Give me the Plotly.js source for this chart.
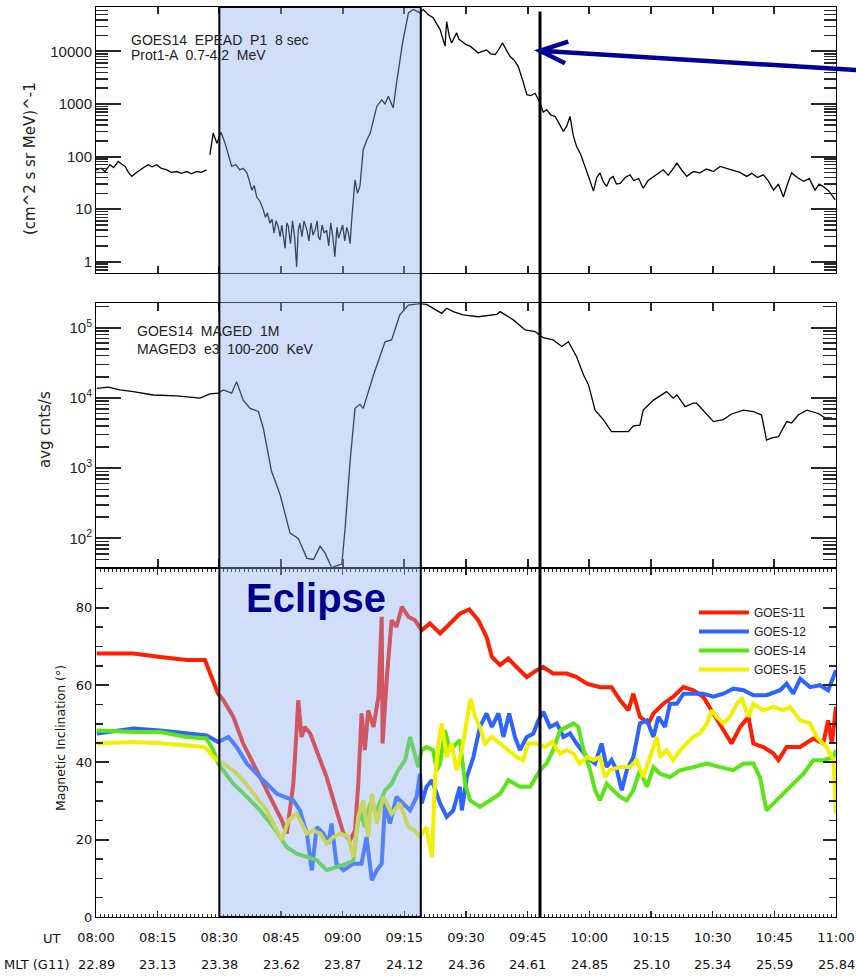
<!DOCTYPE html>
<html><head><meta charset="utf-8">
<script src="https://cdn.plot.ly/plotly-3.0.1.min.js"></script>
<style>html,body{margin:0;padding:0;background:#fff}#chart{width:856px;height:976px}</style>
</head><body><div id="chart"></div>
<script>
// x values: minutes after 08:00 UT
const utTicks = [0,15,30,45,60,75,90,105,120,135,150,165,180];
const utLabels = ['08:00','08:15','08:30','08:45','09:00','09:15','09:30','09:45','10:00','10:15','10:30','10:45','11:00'];
const mltLabels = ['22.89','23.13','23.38','23.62','23.87','24.12','24.36','24.61','24.85','25.10','25.34','25.59','25.84'];
const eclipseStart = 30, eclipseEnd = 79, markerTime = 108;

// GOES14 EPEAD P1 proton flux
const fluxTime = [0,1.2,2.2,3.4,4.3,5.4,6.2,7.1,7.9,8.7, 9.6,10.7,11.6,12.7,13.6,14.8,15.8,17.2,18.3,19.6,
 20.8,22.1,23.2,24.5,25.6,26.9,27.3,27.7,28.5,29.4, 30.4,31.4,32.2,33.0,34.0,35.0,35.8,36.7,37.3,37.9,
 38.5,39.1,39.9,40.7,41.2,41.7,42.3,42.8,43.3,43.8, 44.3,44.8,45.2,45.6,46.0,46.4,46.8,47.3,47.8,48.3,
 48.8,49.2,49.6,50.1,50.6,51.3,51.8,52.3,52.8,53.3, 53.8,54.1,54.5,55.0,55.5,56.1,56.6,57.1,57.6,58.1,
 58.6,59.0,59.4,60.0,60.5,61.0,61.4,61.8,62.2,63.0, 63.6,64.2,65.0,65.8,66.7,67.5,68.3,69.5,70.3,71.1,
 72.3,73.1,73.9,74.6,75.2,76.0,77.2,78.0,78.8,79.6, 80.8,82.0,83.0,83.7,84.9,85.3,85.9,86.5,87.7,88.3,
 89.0,90.0,91.0,92.0,93.0,94.0,95.0,96.0,97.1,98.0, 98.9,100.0,100.7,101.7,102.7,103.8,104.8,105.8,106.8,107.4,
 108.0,108.8,109.6,110.6,111.7,112.7,113.7,114.5,115.3,116.1, 116.9,117.9,119.0,120.0,121.0,121.8,122.6,123.4,124.2,125.0,
 125.8,126.6,127.5,128.7,129.9,130.8,132.0,133.1,134.3,135.6, 136.8,138.0,139.2,140.3,141.3,142.5,143.7,145.3,146.9,148.5,
 150.2,151.8,153.4,155.0,156.6,158.3,159.5,160.9,162.3,163.5, 164.8,166.0,167.2,168.2,169.2,170.6,172.1,173.5,174.9,175.9,
 176.9,178.3,179.8];
const fluxValue = [56,60,52,70,62,81,72,65,50,42, 48,56,62,70,64,70,60,56,50,52,
 48,52,47,52,50,56,null,108,280,180, 290,180,110,65,70,56,60,49,35,23,
 28,17,14,9.7,7,8.5,5.4,6.5,3.5,6, 4.7,3,5,2.6,1.8,5.5,4.7,2.2,6,3,
 0.8,4,5.4,3,6,4.0,2.5,5.5,3.2,4.0, 6,3,2.6,5,3.5,4,2,5.5,3,1.25,
 4.5,2.8,3.5,5,2.5,4.5,3.5,2.2,6.3,36, 20,27,135,200,280,500,900,1200,1000,1400,
 840,2500,6900,15000,26000,54000,63000,58000,54000,63000, 50000,44000,32000,26000,12600,37000,20000,14500,22600,17000,
 15500,13500,12600,11000,9300,10000,10700,9000,8700,11000, 14500,10000,8100,6800,5200,2800,1500,1450,1600,1300,
 1050,700,780,620,580,420,300,380,580,250, 155,110,65,38,22,40,49,33,27,38,
 42,30,31,40,45,35,38,25,35,42, 48,56,44,58,75,55,42,52,49,58,
 52,65,60,56,50,42,48,40,45,35, 23,30,17,30,49,40,34,38,23,30,
 27,22,15];

// GOES14 MAGED 100-200 keV electrons
const magedTime = [0.2,3.0,5.8,9.1,13.9,19.6,25.3,27.7,29.7,31.0,33.0,34.2,35.8,37.5,39.5,40.7,42.7,44.8,
 47.2,49.2,51.3,52.9,54.5,55.7,57.3,59.8,60.6,61.8,63.0,64.2,65.0,67.5,70.3,71.9,73.9,76.0,
 78.8,80.4,84.1,85.3,86.9,89.3,93.0,97.5,98.3,101.5,104.4,106.8,108.8,111.2,113.3,114.9,116.9,118.6,
 119.8,121.4,123.4,125.4,127.9,129.5,130.7,132.3,133.1,135.6,138.8,140.4,141.3,143.3,145.3,146.1,150.2,152.6,
 154.6,157.5,159.9,161.9,163.1,164.4,166.0,168.0,169.2,170.8,172.9,175.7,177.3,179.0];
const magedValue = [13700,14200,13000,12300,11000,10700,9900,11400,11700,13000,11700,17000,9300,7100,6400,3700,900,415,
 119,100,52,50,77,62,38.5,43,140,1240,7100,8100,7100,21200,63000,67000,152000,210000,
 220000,215000,160000,189000,169000,152000,143000,155000,169000,129000,93000,88000,72000,67000,54000,63000,38600,21200,
 15300,6700,4900,3300,3300,3300,4000,4100,6700,9300,12300,9900,11000,7500,8400,8400,4600,4900,
 5900,6700,6400,5700,2500,2700,2800,4600,4400,5700,6700,6000,5200,5200];

// Magnetic inclination (deg)
const g11Time = [0.2,9.1,15.6,22.1,26.5,28.5,29.7,31.0,33.4,35.8, 38.3,40.7,43.1,45.2,46.4,47.2,48.0,48.7,49.2,50.0,
 50.8,52.1,53.7,56.1,58.5,60.2,61.8,63.0,63.8,64.6, 65.4,66.2,67.5,68.7,69.5,69.7,70.7,71.9,73.1,74.4,
 76.0,77.6,79.2,81.2,83.7,86.1,88.5,90.8,93.0,95.0, 96.3,98.3,100.3,102.3,104.8,107.2,108.8,111.2,114.5,116.9,
 119.4,122.6,125.4,127.5,129.5,130.7,132.3,134.4,135.6,138.0, 140.4,142.9,145.3,147.7,150.2,152.6,154.6,156.7,158.7,159.9,
 162.3,164.8,166.0,168.0,171.3,174.5,176.9,178.1,179.0,180];
const g11Incl = [68.2,68.2,67.3,66.5,66.5,61.3,57.8,56.1,51.8,44.9, 39.7,34.5,29.4,25.0,21.6,27.6,34.5,46.6,56.1,46.6,
 49.2,47.5,43.2,36.2,27.6,21.6,19.9,22.4,34.5,52.7, 43.2,53.5,49.2,57.0,77.7,44.9,61.3,76.8,75.1,80.3,
 77.7,76.8,74.2,76.0,73.4,76.0,78.5,79.6,76.8,72.5, 67.3,65.2,66.9,64.7,62.1,63.9,64.7,63.0,63.0,62.1,
 60.4,59.5,59.5,56.1,53.5,57.8,51.8,50.1,52.7,55.2, 57.0,59.5,58.7,57.0,52.7,48.3,44.9,49.2,51.8,44.9,
 44.0,42.3,40.6,44.0,44.0,46.2,44.9,50.9,44.9,54.4];

const g12Time = [0.2,9.1,15.6,22.1,26.9,29.7,32.2,34.2,36.7,39.9, 44.0,48.0,49.6,51.3,52.5,53.7,55.3,56.5,57.3,58.5,
 60.2,62.6,64.6,65.8,67.1,68.3,69.5,70.3,71.5,73.1, 74.8,76.4,78.0,78.8,79.2,80.4,81.7,83.7,85.3,86.9,
 88.5,89.0,90.2,91.8,93.4,95.0,96.3,97.9,99.1,100.5, 101.9,103.1,104.8,106.4,107.6,108.8,110.4,112.1,113.7,115.3,
 116.9,119.4,121.4,123.0,124.2,125.4,126.7,127.9,129.1,130.7, 132.3,134.0,135.6,136.8,138.4,139.6,141.3,142.9,145.3,147.7,
 150.2,152.6,155.0,157.5,159.9,163.1,166.4,168.0,169.6,171.3, 173.7,176.1,178.1,180];
const g12Incl = [47.5,48.8,48.3,47.5,47.0,45.3,46.6,44.0,39.7,36.2, 31.9,30.2,27.6,21.6,12.1,23.3,21.6,19.0,24.2,13.8,
 12.1,13.8,13.8,20.7,9.5,12.1,13.8,29.4,24.2,31.1, 29.4,27.6,31.1,37.1,29.4,33.7,35.4,29.4,25.9,27.6,
 33.7,27.6,36.2,41.4,49.2,52.7,49.2,52.7,46.6,52.7, 46.6,43.2,46.6,47.5,50.9,53.1,49.2,50.1,46.6,47.5,
 44.9,41.4,39.7,44.9,38.8,40.6,38.0,32.8,38.0,41.4, 50.1,50.9,46.6,51.8,49.2,55.2,55.2,57.8,57.8,57.8,
 57.0,57.8,59.1,58.7,57.4,57.4,58.7,60.4,57.8,61.7, 59.5,60.0,58.7,63.9];

const g14Time = [0.2,9.1,15.6,22.1,26.9,28.5,29.7,33.4,36.7,39.9, 43.1,45.2,46.4,48.8,51.3,53.7,56.1,58.5,61.0,62.6,
 63.4,64.2,65.4,66.7,68.3,70.3,71.9,73.5,75.2,76.4, 77.2,78.4,79.2,80.4,82.0,82.9,83.7,84.9,86.1,87.7,
 88.5,89.8,91.0,93.4,95.8,98.3,100.3,103.1,105.6,108.0, 109.6,111.2,112.9,114.5,116.1,117.3,118.6,120.2,121.4,122.6,
 124.2,125.8,127.5,129.1,130.7,132.3,134.0,135.6,137.2,139.6, 142.1,145.3,148.6,151.8,155.0,157.5,159.9,161.5,163.1,164.8,
 167.2,169.6,172.1,174.5,176.9,179.4,180];
const g14Incl = [48.3,47.9,47.9,46.6,46.2,43.2,39.7,34.5,31.1,27.6, 23.3,19.9,18.1,16.4,15.5,14.7,12.1,13.0,13.8,14.7,
 22.4,27.6,23.3,29.4,27.6,32.8,34.5,38.0,40.6,46.6, 43.2,38.8,43.2,44.0,43.2,38.0,39.7,48.3,43.2,44.9,
 45.8,34.5,30.2,28.5,30.2,31.9,35.4,33.7,33.7,38.0, 39.7,43.2,48.3,49.2,50.1,49.2,43.2,38.0,32.8,30.2,
 34.5,32.8,31.1,30.2,32.8,38.0,33.7,38.8,37.1,36.2, 38.0,38.8,39.7,38.8,38.0,39.7,39.7,36.2,27.6,29.4,
 31.9,34.5,37.1,40.6,40.6,41.4,43.2];

const g15Time = [0.2,9.1,15.6,22.1,26.5,28.5,29.7,33.4,35.8,39.1, 41.5,45.2,46.8,48.8,51.3,52.9,54.5,56.1,57.7,59.4,
 61.4,62.6,63.8,65.0,66.2,67.1,68.3,69.9,71.9,73.9, 76.0,77.6,78.8,80.4,81.7,82.5,83.3,84.1,85.3,86.5,
 87.7,89.0,90.2,91.1,92.2,93.4,94.6,96.3,98.3,100.3, 102.3,103.9,105.1,107.2,109.2,110.9,112.9,114.5,116.1,117.7,
 119.4,121.0,122.6,123.8,125.0,127.5,129.9,131.5,133.1,134.8, 136.4,137.2,138.8,140.4,142.1,143.7,145.3,146.9,148.6,149.8,
 151.0,152.6,154.2,155.9,157.1,158.7,159.9,162.3,164.8,167.2, 168.8,171.3,173.7,175.3,177.7,179.4,180];
const g15Incl = [44.9,45.3,45.0,44.5,44.0,41.4,40.6,38.0,35.4,31.1, 27.6,19.9,25.0,26.8,21.6,22.4,21.6,19.0,20.7,21.6,
 20.7,15.5,25.9,30.2,20.7,31.9,24.2,31.1,26.8,29.4, 23.3,22.4,20.7,23.3,15.5,36.2,44.9,50.1,41.4,44.9,
 38.0,43.2,50.1,56.5,51.8,49.2,44.9,46.6,44.9,43.2, 41.4,40.6,44.9,44.9,44.0,45.3,42.3,43.2,42.3,39.7,
 41.4,40.6,41.4,36.2,38.0,38.8,38.8,40.6,36.2,41.4, 46.6,41.4,43.2,40.6,43.2,44.9,46.6,47.5,50.1,53.5,
 51.8,50.1,51.8,55.2,56.5,51.8,55.2,53.5,54.4,53.5, 54.4,50.9,50.1,46.6,44.0,40.6,26.8];

const seriesNames = ['GOES-11','GOES-12','GOES-14','GOES-15'];
const seriesColors = ['rgb(255,30,0)','rgb(45,100,255)','rgb(90,230,20)','rgb(240,240,0)'];

// ---------- build figure ----------
const minorLog = [];
for (let e = -1; e < 6; e++) for (let k = 2; k < 10; k++) minorLog.push(k * Math.pow(10, e));

const TC = 'rgb(40,40,40)';
const frame = {showline:true, linecolor:'#000', linewidth:1, mirror:'allticks', ticks:'inside',
  tickcolor:TC, tickwidth:2, showgrid:false, zeroline:false};
const topFont = {family:'Liberation Sans, Arial, sans-serif', size:15, color:'#222'};
const txtFont = {family:'Liberation Sans, Arial, sans-serif', size:14, color:'#222'};
const lowFont = {family:'DejaVu Sans, sans-serif', size:13, color:'#111'};

const traces = [
  {x:fluxTime, y:fluxValue, xaxis:'x', yaxis:'y', type:'scatter', mode:'lines',
   line:{color:'#000', width:1.3}, showlegend:false, hoverinfo:'skip'},
  {x:magedTime, y:magedValue, xaxis:'x2', yaxis:'y2', type:'scatter', mode:'lines',
   line:{color:'#000', width:1.3}, showlegend:false, hoverinfo:'skip'}
];
const incl = [[g11Time,g11Incl],[g12Time,g12Incl],[g14Time,g14Incl],[g15Time,g15Incl]];
incl.forEach((s, i) => traces.push({x:s[0], y:s[1], xaxis:'x3', yaxis:'y3', type:'scatter', mode:'lines',
  name:seriesNames[i], line:{color:seriesColors[i], width:4}, hoverinfo:'skip'}));

function note(text, x, y, font, extra) {
  return Object.assign({text:text, xref:'paper', yref:'paper', x:x, y:y, xanchor:'center', yanchor:'middle',
    showarrow:false, font:font}, extra || {});
}
const annotations = [
  note('GOES14  EPEAD  P1  8 sec', 0.0446, 0.9636, txtFont, {xanchor:'left'}),
  note('Prot1-A  0.7-4.2  MeV', 0.0446, 0.9474, txtFont, {xanchor:'left'}),
  note('GOES14  MAGED  1M', 0.0527, 0.6442, txtFont, {xanchor:'left'}),
  note('MAGED3  e3  100-200  KeV', 0.0527, 0.6240, txtFont, {xanchor:'left'}),
  note('(cm^2 s sr MeV)^-1', -0.0892, 0.834, {family:'DejaVu Sans, sans-serif', size:15, color:'#222'}, {textangle:-90}),
  note('avg cnts/s', -0.0689, 0.5352, {family:'DejaVu Sans, sans-serif', size:15, color:'#222'}, {textangle:-90}),
  note('Magnetic Inclination (°)', -0.0486, 0.1967, {family:'DejaVu Sans, sans-serif', size:12.5, color:'#111'}, {textangle:-90}),
  note('<b>Eclipse</b>', 0.2973, 0.3505, {family:'Liberation Sans, Arial, sans-serif', size:40, color:'rgb(0,0,140)'}),
  note('UT', -0.0595, -0.0231, lowFont),
  note('MLT (G11)', -0.0797, -0.0527, lowFont)
];
utTicks.forEach((t, i) => annotations.push({text:mltLabels[i], xref:'x3', yref:'paper', x:t, y:-0.0527,
  xanchor:'center', yanchor:'middle', showarrow:false, font:lowFont}));

const tipX = markerTime / 180;
const shapes = [
  {type:'rect', xref:'x', yref:'paper', x0:eclipseStart, x1:eclipseEnd, y0:0, y1:1, layer:'above',
   fillcolor:'rgba(137,172,242,0.4)', line:{color:'#000', width:2}},
  {type:'line', xref:'x', yref:'paper', x0:markerTime, x1:markerTime, y0:0, y1:0.995, layer:'above',
   line:{color:'#000', width:3}},
  {type:'path', xref:'paper', yref:'paper', layer:'above', line:{color:'rgb(0,0,150)', width:4.5},
   path:'M 1.03 0.9305 L ' + tipX + ' 0.952 M ' + (tipX+0.0382) + ' 0.9619 L ' + tipX + ' 0.952 L ' + (tipX+0.0338) + ' 0.9381'}
];

const layout = {
  width:856, height:976, margin:{l:96, r:20, t:7, b:59},
  paper_bgcolor:'#fff', plot_bgcolor:'#fff',
  showlegend:true,
  legend:{x:0.808, y:0.3505, xanchor:'left', yanchor:'top', bgcolor:'rgba(0,0,0,0)', itemwidth:50,
    font:{family:'Liberation Sans, Arial, sans-serif', size:12, color:'#222'}},
  xaxis:Object.assign({}, frame, {anchor:'y', range:[0,180], tickmode:'array', tickvals:utTicks,
    ticklen:7, showticklabels:false}),
  xaxis2:Object.assign({}, frame, {anchor:'y2', range:[0,180], tickmode:'array', tickvals:utTicks,
    ticklen:8, showticklabels:false}),
  xaxis3:Object.assign({}, frame, {anchor:'y3', range:[0,180], tickmode:'array', tickvals:utTicks,
    ticktext:utLabels, ticklen:6, tickwidth:1.5, tickfont:lowFont, ticklabelstandoff:8,
    minor:{tickmode:'linear', tick0:0, dtick:1, ticks:'inside', ticklen:3, tickcolor:TC, tickwidth:1}}),
  yaxis:Object.assign({}, frame, {type:'log', domain:[0.7077,1], anchor:'x', range:[-0.214,4.845],
    tickmode:'array', tickvals:[1,10,100,1000,10000], ticktext:['1','10','100','1000','10000'],
    ticklen:25, tickfont:topFont,
    minor:{tickmode:'array', tickvals:minorLog, ticks:'inside', ticklen:12, tickcolor:TC, tickwidth:1.5}}),
  yaxis2:Object.assign({}, frame, {type:'log', domain:[0.3849,0.6744], anchor:'x2', range:[1.596,5.347],
    tickmode:'array', tickvals:[100,1000,10000,100000],
    ticktext:['10<sup>2</sup>','10<sup>3</sup>','10<sup>4</sup>','10<sup>5</sup>'],
    ticklen:25, tickfont:topFont,
    minor:{tickmode:'array', tickvals:minorLog, ticks:'inside', ticklen:13, tickcolor:TC, tickwidth:1.5}}),
  yaxis3:Object.assign({}, frame, {domain:[0,0.3821], anchor:'x3', range:[0,90],
    tickmode:'array', tickvals:[0,20,40,60,80], ticklen:13, tickfont:lowFont,
    minor:{tickmode:'linear', tick0:0, dtick:5, ticks:'inside', ticklen:7, tickcolor:TC, tickwidth:1.5}}),
  annotations:annotations,
  shapes:shapes
};

Plotly.newPlot('chart', traces, layout, {staticPlot:true, displayModeBar:false});
</script></body></html>
